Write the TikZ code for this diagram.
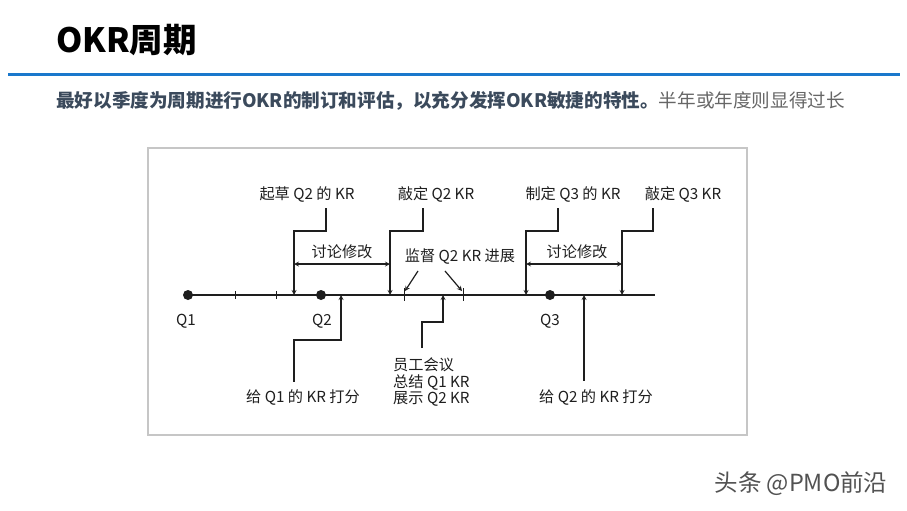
\documentclass[tikz,border=0pt]{standalone}
\usepackage{fontspec}
\setmainfont{Noto Sans CJK SC}
\usetikzlibrary{arrows,calc}

\definecolor{okrblue}{HTML}{1A78CC}
\definecolor{subdark}{HTML}{3B4A5C}
\definecolor{subgray}{HTML}{666666}
\definecolor{framegray}{HTML}{C6C6C6}
\definecolor{ink}{HTML}{1E1E1E}

\tikzset{
  lbl/.style={font=\fontsize{15.2}{16.5}\selectfont, text=ink, inner sep=0pt},
  axis/.style={line width=1.6pt, draw=ink},
  marker/.style={line width=1.2pt, draw=ink, -stealth},
  span/.style={line width=1.2pt, draw=ink, stealth-stealth},
  tickmark/.style={line width=1pt, draw=ink},
  qdot/.style={circle, fill=ink, inner sep=0pt, minimum size=10pt}
}

\begin{document}
\begin{tikzpicture}[x=1pt,y=-1pt]
\useasboundingbox (0,0) rectangle (907,511);

% heading
\node[anchor=west, inner sep=0pt, font=\fontsize{33.5}{36}\selectfont\bfseries] (title) at (56,40) {OKR周期};
\draw[okrblue, line width=3pt] (8,74) -- (900,74);
\node[anchor=west, inner sep=0pt, font=\fontsize{18.6}{21}\selectfont] (sub) at (56,101)
  {\textcolor{subdark}{\bfseries 最好以季度为周期进行OKR的制订和评估，以充分发挥OKR敏捷的特性。}\textcolor{subgray}{半年或年度则显得过长}};

% frame
\draw[framegray, line width=1.5pt] (148,148) rectangle (747,435);

% timeline
\coordinate (tStart) at (188,295);
\coordinate (tEnd) at (655,295);
\draw[axis] (tStart) -- (tEnd);
\node[qdot] (q1) at (188,295) {};
\node[qdot] (q2) at (321,295) {};
\node[qdot] (q3) at (550,295) {};
\node[lbl] (q1Lbl) at (186,321) {Q1};
\node[lbl] (q2Lbl) at (322,321) {Q2};
\node[lbl] (q3Lbl) at (550,321) {Q3};
\draw[tickmark] (235,291) -- (235,299);
\draw[tickmark] (276,291) -- (276,299);

% points on the timeline
\coordinate (draftQ2) at (294,295);
\coordinate (fixQ2) at (390,295);
\coordinate (planQ3) at (526,295);
\coordinate (fixQ3) at (622,295);
\coordinate (monA) at (404,295);
\coordinate (monB) at (463,295);
\coordinate (score1) at (341,295);
\coordinate (meet) at (443,295);
\coordinate (score2) at (584,295);

% kinks
\coordinate (draftK) at (326,231);
\coordinate (fixQ2K) at (423,231);
\coordinate (planQ3K) at (558,231);
\coordinate (fixQ3K) at (653,231);
\coordinate (score1K) at (294,340);
\coordinate (meetK) at (422,322);

% labels above
\node[lbl] (draftLbl) at (307,194) {起草 Q2 的 KR};
\node[lbl] (fixQ2Lbl) at (436,194) {敲定 Q2 KR};
\node[lbl] (planQ3Lbl) at (573,194) {制定 Q3 的 KR};
\node[lbl] (fixQ3Lbl) at (683,194) {敲定 Q3 KR};
\node[lbl] (talkA) at (342,252) {讨论修改};
\node[lbl] (talkB) at (577,252) {讨论修改};
\node[lbl] (monLbl) at (460,257) {监督 Q2 KR 进展};

% labels below
\node[lbl] (score1Lbl) at (303,397) {给 Q1 的 KR 打分};
\node[lbl, align=left, anchor=north west] (meetLbl) at (393,358) {员工会议\\总结 Q1 KR\\展示 Q2 KR};
\node[lbl] (score2Lbl) at (596,397) {给 Q2 的 KR 打分};

% connectors above
\draw[marker] ([yshift=-6pt]draftLbl.south -| draftK) -- (draftK) -| (draftQ2);
\draw[marker] ([yshift=-6pt]fixQ2Lbl.south -| fixQ2K) -- (fixQ2K) -| (fixQ2);
\draw[marker] ([yshift=-6pt]planQ3Lbl.south -| planQ3K) -- (planQ3K) -| (planQ3);
\draw[marker] ([yshift=-6pt]fixQ3Lbl.south -| fixQ3K) -- (fixQ3K) -| (fixQ3);
\draw[span] (draftQ2 |- 0,264) -- (fixQ2 |- 0,264);
\draw[span] (planQ3 |- 0,264) -- (fixQ3 |- 0,264);

% monitoring
\draw[tickmark] ($(monA)+(0,-7)$) -- ($(monA)+(0,6)$);
\draw[tickmark] ($(monB)+(0,-7)$) -- ($(monB)+(0,6)$);
\draw[marker] ($(monLbl.south)+(-42,6)$) -- ($(monA)+(1,-4)$);
\draw[marker] ($(monLbl.south)+(-15,6)$) -- ($(monB)+(-1,-4)$);

% connectors below
\draw[marker] ([yshift=7pt]score1Lbl.north -| score1K) -- (score1K) -| (score1);
\draw[marker] ([yshift=10pt]meetLbl.north -| meetK) -- (meetK) -| (meet);
\draw[marker] ([yshift=8pt]score2Lbl.north -| score2) -- (score2);

% watermark
\node[inner sep=0pt, text=white, font=\fontsize{23.5}{25}\selectfont] at (802,485) {头条 @PMO前沿};
\node[inner sep=0pt, text=subgray!80!black, font=\fontsize{23.5}{25}\selectfont] (mark) at (801,484) {头条 @PMO前沿};
\end{tikzpicture}
\end{document}
